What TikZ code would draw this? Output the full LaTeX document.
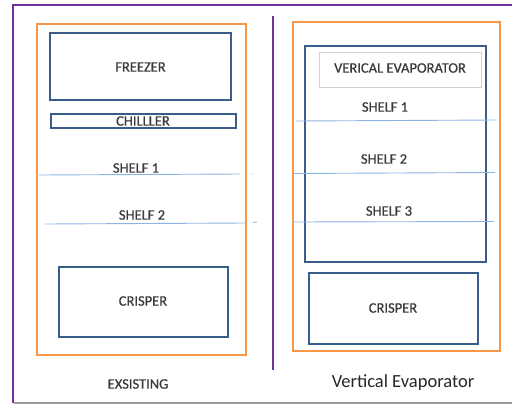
\documentclass[tikz,border=0pt]{standalone}
\usepackage{fontspec}
\setmainfont{Carlito}
\newfontfamily\medfont[FakeBold=0.7]{Carlito}
\definecolor{frame}{HTML}{7030A0}
\definecolor{orng}{HTML}{F79646}
\definecolor{dblue}{HTML}{385D8A}
\definecolor{lblue}{HTML}{8EB4E3}
\definecolor{txt}{HTML}{3A3A3A}
\definecolor{gryb}{HTML}{D0D0D0}
\begin{document}
\begin{tikzpicture}[x=1pt,y=-1pt,
  outer/.style={draw=orng,line width=2.2pt},
  comp/.style={draw=dblue,line width=2.2pt},
  shelfline/.style={draw=lblue,line width=0.9pt},
  lbl/.style={font=\medfont\fontsize{14.5}{16}\selectfont,text=txt,inner sep=0pt},
  captext/.style={font=\fontsize{18.5}{20}\selectfont,text=black!85,inner sep=0pt}]
\useasboundingbox (0,0) rectangle (512,405);
% frame
\draw[frame,line width=2pt] (13,403) -- (13,5) -- (512,5);
\draw[gray!80,line width=2pt] (14,403) -- (512,403);
\draw[frame,line width=2.5pt] (273,16) -- (273,370);
% left fridge
\draw[outer] (37,24) rectangle (246,355);
\draw[comp] (50,33) rectangle (231,100);
\node[lbl] (fz) at (140.5,67) {FREEZER};
\draw[comp,line width=1.8pt] (51,114) rectangle (236,128);
\node[lbl] (ch) at (143,121) {CHILLLER};
\coordinate (s1a) at (39,175); \coordinate (s1b) at (240,174);
\draw[shelfline] (s1a) -- (s1b);
\node[lbl] (ls1) at (136,168) {SHELF 1};
\fill[lblue] (252,174) circle (0.6);
\coordinate (s2a) at (45,224); \coordinate (s2b) at (246,223);
\draw[shelfline] (s2a) -- (s2b);
\draw[shelfline] (253,222.5) -- (257,222);
\node[lbl] (ls2) at (142,215) {SHELF 2};
\draw[comp] (59,267) rectangle (228,337);
\node[lbl] (cr1) at (143,301) {CRISPER};
\node[lbl] (ex) at (138,384) {EXSISTING};
% right fridge
\draw[outer] (293,22) rectangle (500,351);
\draw[comp] (305,46) rectangle (486,262);
\draw[draw=gryb,line width=0.8pt] (319,52) rectangle (481,87);
\node[lbl] (ve) at (400,68) {VERICAL EVAPORATOR};
\coordinate (r1a) at (296,121); \coordinate (r1b) at (497,120);
\draw[shelfline] (r1a) -- (r1b);
\node[lbl] (rs1) at (385,107) {SHELF 1};
\coordinate (r2a) at (294,173.5); \coordinate (r2b) at (495,172.5);
\draw[shelfline] (r2a) -- (r2b);
\node[lbl] (rs2) at (384,159) {SHELF 2};
\coordinate (r3a) at (292,222); \coordinate (r3b) at (494,221.5);
\draw[shelfline] (r3a) -- (r3b);
\node[lbl] (rs3) at (389,211) {SHELF 3};
\draw[comp] (309,273) rectangle (478,344);
\node[lbl] (cr2) at (393,308) {CRISPER};
\node[captext] (vcap) at (403,383) {Vertical Evaporator};
\end{tikzpicture}
\end{document}
